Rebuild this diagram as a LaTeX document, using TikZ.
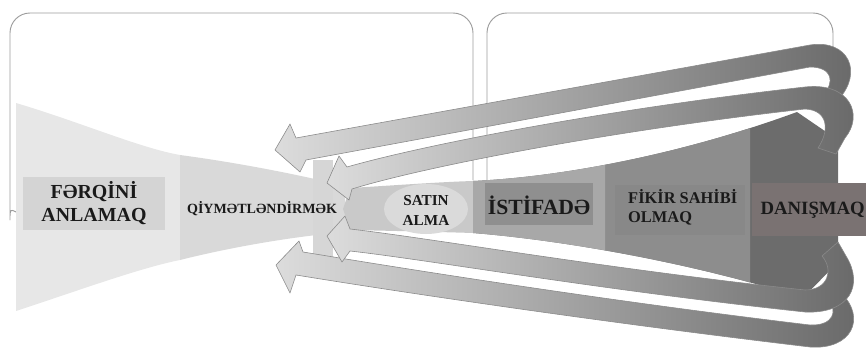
\documentclass[tikz,border=0pt]{standalone}
\usepackage{fontspec}
\setmainfont{Liberation Serif}
\definecolor{frameline}{HTML}{9C9C9C}
\definecolor{zoneA}{HTML}{E7E7E7}
\definecolor{zoneB}{HTML}{D9D9D9}
\definecolor{labA}{HTML}{D4D4D4}
\definecolor{barcol}{HTML}{D6D6D6}
\definecolor{satin}{HTML}{C9C9C9}
\definecolor{satinhi}{HTML}{DADADA}
\definecolor{istif}{HTML}{A8A8A8}
\definecolor{istiflab}{HTML}{8F8F8F}
\definecolor{fikir}{HTML}{8D8D8D}
\definecolor{fikirlab}{HTML}{888888}
\definecolor{danis}{HTML}{6C6C6C}
\definecolor{danislab}{HTML}{7A7272}
\definecolor{bandL}{HTML}{DCDCDC}
\definecolor{bandR}{HTML}{686868}
\definecolor{bandline}{HTML}{8A8A8A}
\definecolor{txt}{HTML}{1A1A1A}
\begin{document}
\begin{tikzpicture}[x=0.3mm, y=-0.3mm, line join=round, line cap=round,
    frame/.style={draw=frameline, line width=0.8pt, rounded corners=6mm},
    band/.style={left color=bandL, right color=bandR, draw=bandline, line width=0.5pt},
    lbl/.style={text=txt, inner sep=0pt, align=center}]
\useasboundingbox (0,0) rectangle (866,363);
% frames
\draw[frame] (16,212) .. controls (10,209) .. (10,200) -- (10,13) -- (473,13) -- (473,180);
\draw[frame] (487,185) -- (487,13) -- (833,13) -- (833,150);
% left funnel
\fill[zoneA] (16,103) .. controls (80,122) and (140,148) .. (180,155) -- (180,260) .. controls (140,268) and (80,290) .. (16,311) -- cycle;
\fill[zoneB] (180,155) .. controls (240,163) and (300,175) .. (345,186) -- (345,232) .. controls (300,236) and (240,245) .. (180,260) -- cycle;
\fill[labA] (23,177) rectangle (165,230);
\fill[barcol] (313,160) rectangle (333,257);
% satin alma
\fill[satin] (350,188) .. controls (400,185) and (440,182) .. (473,181) -- (473,233) .. controls (440,232) and (400,231) .. (350,230) -- (343,209) -- cycle;
\fill[satinhi] (426,209) ellipse [x radius=42, y radius=25];
% right funnel
\newcommand{\funnelpath}{(473,181) .. controls (560,177) and (680,155) .. (797,112) -- (838,140) -- (838,262) -- (803,298) .. controls (690,262) and (560,240) .. (473,233) -- cycle}
\fill[danis] \funnelpath;
\begin{scope}
  \clip (605,0) rectangle (750,363);
  \fill[fikir] \funnelpath;
\end{scope}
\begin{scope}
  \clip (470,0) rectangle (605,363);
  \fill[istif] \funnelpath;
\end{scope}
\fill[istiflab] (485,183) rectangle (593,225);
\fill[fikirlab] (615,185) rectangle (745,235);
% loops
\coordinate (tip1) at (275,150);
\coordinate (tip2) at (327,183);
\coordinate (tip3) at (327,236);
\coordinate (tip4) at (276,265);
\shadedraw[band] (tip1) -- (290,124) -- (296,138) -- (810,45) .. controls (848,39) and (864,72) .. (838,100) -- (822,96) .. controls (836,82) and (832,67) .. (810,67) -- (306,160) -- (300,172) -- cycle;
\shadedraw[band] (tip2) -- (339,156) -- (347,167) .. controls (420,146) and (600,110) .. (805,87) .. controls (850,82) and (864,115) .. (845,138) -- (836,154) -- (818,148) .. controls (830,130) and (828,110) .. (805,109) .. controls (600,132) and (420,168) .. (352,189) -- (349,200) -- cycle;
\shadedraw[band] (tip4) -- (299,241) -- (303,252) .. controls (400,268) and (600,300) .. (810,325) .. controls (834,326) and (838,310) .. (828,300) -- (842,294) .. controls (866,318) and (852,350) .. (810,347) .. controls (600,322) and (400,292) .. (296,275) -- (290,293) -- cycle;
\shadedraw[band] (tip3) -- (345,216) -- (350,229) .. controls (430,238) and (600,268) .. (805,290) .. controls (828,290) and (834,270) .. (822,256) -- (838,242) -- (846,256) .. controls (864,285) and (850,314) .. (805,312) .. controls (600,290) and (430,260) .. (350,251) -- (342,262) -- cycle;
\fill[danislab] (752,183) rectangle (866,236);
% labels
\node[lbl, font=\fontsize{17}{20}\selectfont\bfseries] (ferq) at (94,203) {FƏRQİNİ\\ANLAMAQ};
\node[lbl, font=\fontsize{12}{14}\selectfont\bfseries] (qiym) at (262,209) {QİYMƏTLƏNDİRMƏK};
\node[lbl, font=\fontsize{13}{17}\selectfont\bfseries] (satal) at (426,210) {SATIN\\ALMA};
\node[lbl, font=\fontsize{18.5}{20}\selectfont\bfseries] (istf) at (539,205) {İSTİFADƏ};
\node[lbl, align=left, anchor=west, font=\fontsize{14}{16}\selectfont\bfseries] (fkr) at (628,207) {FİKİR SAHİBİ\\OLMAQ};
\node[lbl, anchor=east, font=\fontsize{16}{18}\selectfont\bfseries] (dns) at (865,210) {DANIŞMAQ};
\end{tikzpicture}
\end{document}
